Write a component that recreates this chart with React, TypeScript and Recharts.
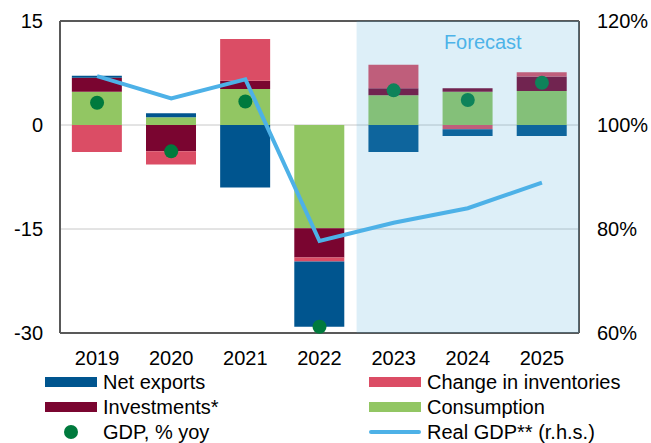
import React from 'react';
import {
    ComposedChart, Bar, Line, XAxis, YAxis, CartesianGrid,
    ReferenceArea, ReferenceLine, Legend,
} from 'recharts';

const years = ['2019', '2020', '2021', '2022', '2023', '2024', '2025'];
const consumption = [4.8, 1.1, 5.2, -14.9, 4.3, 4.8, 4.9];
const investments = [2.0, -3.8, 1.2, -4.2, 1.0, 0.5, 2.1];
const inventories = [-3.9, -1.9, 6.0, -0.6, 3.4, -0.6, 0.6];
const netExports = [0.3, 0.6, -9.0, -9.4, -3.9, -1.0, -1.6];
const gdpYoy = [3.2, -3.8, 3.4, -29.1, 5.0, 3.6, 6.1];
const realGdp = [109.4, 105.1, 108.8, 77.7, 81.2, 84.0, 88.9];

const leftTicks = [-30, -15, 0, 15];
const rightTicks = [60, 80, 100, 120];

const COLORS = {
    netExports: '#00558F',
    inventories: '#DB4D65',
    investments: '#7A0530',
    consumption: '#92C663',
    gdp: '#007A3D',
    realGdp: '#4DB1E7',
    axis: '#595959',
    grid: '#C8C8C8',
};

const FONT = '"Liberation Sans", Arial, sans-serif';
const FONT_SIZE = 20;

const data = years.map((year, i) => ({
    year,
    consumption: consumption[i],
    investments: investments[i],
    inventories: inventories[i],
    netExports: netExports[i],
    gdp: gdpYoy[i],
    realGdp: realGdp[i],
}));

const legendText: React.CSSProperties = {
    position: 'absolute',
    fontSize: FONT_SIZE,
    lineHeight: '20px',
    color: '#000',
    fontFamily: FONT,
    whiteSpace: 'nowrap',
};

const Swatch: React.FC<{ left: number; top: number; color: string; kind: 'bar' | 'dot' | 'line' }> = ({ left, top, color, kind }) => {
    if (kind === 'dot') {
        return <div style={{ position: 'absolute', left: left - 7, top: top - 7, width: 14, height: 14, borderRadius: 7, background: color }} />;
    }
    if (kind === 'line') {
        return <div style={{ position: 'absolute', left, top: top - 2, width: 52, height: 4, borderRadius: 2, background: color }} />;
    }
    return <div style={{ position: 'absolute', left, top: top - 5, width: 52, height: 10, background: color }} />;
};

const CustomLegend: React.FC<any> = () => {
    const rows = [19, 44, 69];
    return (
        <div style={{ position: 'relative', width: 651, height: 80 }}>
            <Swatch left={45} top={rows[0]} color={COLORS.netExports} kind="bar" />
            <span style={{ ...legendText, left: 103, top: rows[0] - 10 }}>Net exports</span>
            <Swatch left={45} top={rows[1]} color={COLORS.investments} kind="bar" />
            <span style={{ ...legendText, left: 103, top: rows[1] - 10 }}>Investments*</span>
            <Swatch left={71} top={rows[2]} color={COLORS.gdp} kind="dot" />
            <span style={{ ...legendText, left: 103, top: rows[2] - 10 }}>GDP, % yoy</span>

            <Swatch left={369} top={rows[0]} color={COLORS.inventories} kind="bar" />
            <span style={{ ...legendText, left: 427, top: rows[0] - 10 }}>Change in inventories</span>
            <Swatch left={369} top={rows[1]} color={COLORS.consumption} kind="bar" />
            <span style={{ ...legendText, left: 427, top: rows[1] - 10 }}>Consumption</span>
            <Swatch left={369} top={rows[2]} color={COLORS.realGdp} kind="line" />
            <span style={{ ...legendText, left: 427, top: rows[2] - 10 }}>Real GDP** (r.h.s.)</span>
        </div>
    );
};

const ForecastLabel: React.FC<any> = ({ viewBox }) => {
    if (!viewBox) return null;
    return (
        <text
            x={viewBox.x + viewBox.width / 2 + 15}
            y={viewBox.y + 28}
            textAnchor="middle"
            fill="#4DB3E8"
            fontSize={FONT_SIZE}
            fontFamily={FONT}
        >
            Forecast
        </text>
    );
};

const App: React.FC = () => {
    return (
        <div style={{ position: 'absolute', left: 0, top: 0, width: 651, height: 443, background: '#fff' }}>
            <ComposedChart
                width={651}
                height={443}
                data={data}
                stackOffset="sign"
                barCategoryGap="16%"
                margin={{ top: 21, right: 0, bottom: 0, left: 0 }}
                style={{ fontFamily: FONT }}
            >
                <CartesianGrid yAxisId="left" vertical={false} stroke={COLORS.grid} strokeWidth={1} />
                <XAxis
                    dataKey="year"
                    height={30}
                    tickLine={false}
                    tickSize={0}
                    tickMargin={18}
                    axisLine={{ stroke: COLORS.axis, strokeWidth: 2 }}
                    tick={{ fontSize: FONT_SIZE, fill: '#000' }}
                />
                <YAxis
                    yAxisId="left"
                    width={60}
                    domain={[-30, 15]}
                    ticks={leftTicks}
                    interval={0}
                    tickLine={false}
                    tickSize={0}
                    tickMargin={17}
                    axisLine={{ stroke: COLORS.axis, strokeWidth: 2 }}
                    tick={{ fontSize: FONT_SIZE, fill: '#000' }}
                />
                <YAxis
                    yAxisId="right"
                    orientation="right"
                    width={72}
                    domain={[60, 120]}
                    ticks={rightTicks}
                    interval={0}
                    tickLine={false}
                    tickSize={0}
                    tickMargin={18}
                    tickFormatter={(v: number) => `${v}%`}
                    axisLine={{ stroke: COLORS.axis, strokeWidth: 2 }}
                    tick={{ fontSize: FONT_SIZE, fill: '#000', textAnchor: 'start' }}
                />
                <ReferenceLine yAxisId="left" y={15} stroke={COLORS.axis} strokeWidth={2} />

                <Bar yAxisId="left" dataKey="consumption" stackId="a" fill={COLORS.consumption} isAnimationActive={false} />
                <Bar yAxisId="left" dataKey="investments" stackId="a" fill={COLORS.investments} isAnimationActive={false} />
                <Bar yAxisId="left" dataKey="inventories" stackId="a" fill={COLORS.inventories} isAnimationActive={false} />
                <Bar yAxisId="left" dataKey="netExports" stackId="a" fill={COLORS.netExports} isAnimationActive={false} />

                <Line
                    yAxisId="left"
                    dataKey="gdp"
                    stroke="none"
                    dot={{ r: 7, fill: COLORS.gdp, stroke: 'none' }}
                    activeDot={false}
                    isAnimationActive={false}
                />

                <ReferenceArea
                    yAxisId="left"
                    x1="2023"
                    x2="2025"
                    y1={-30}
                    y2={15}
                    fill="#4AA8DA"
                    fillOpacity={0.19}
                    stroke="none"
                    zIndex={650}
                    label={<ForecastLabel />}
                />

                <Line
                    yAxisId="right"
                    dataKey="realGdp"
                    stroke={COLORS.realGdp}
                    strokeWidth={4}
                    dot={false}
                    activeDot={false}
                    zIndex={700}
                    isAnimationActive={false}
                />

                <Legend
                    verticalAlign="bottom"
                    height={80}
                    wrapperStyle={{ left: 0, bottom: 0, width: 651, height: 80 }}
                    content={<CustomLegend />}
                />
            </ComposedChart>
        </div>
    );
};

export default App;
